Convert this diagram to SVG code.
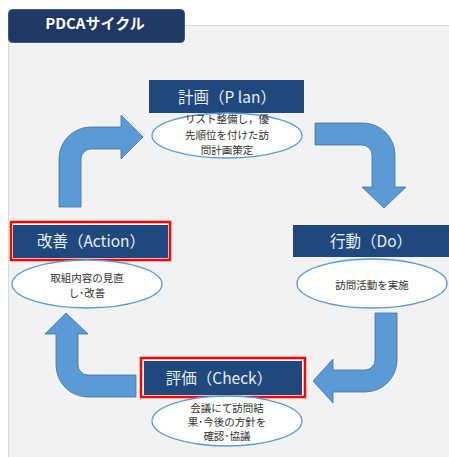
<svg xmlns="http://www.w3.org/2000/svg" width="449" height="457" viewBox="0 0 449 457">
<style>
.arrow{fill:#5B9BD5;stroke:#41719C;stroke-width:0.8}
.box{fill:#1F497D}
.hl{fill:none;stroke:#FF0000;stroke-width:2.5}
.ell{fill:#FFFFFF;stroke:#5B9BD5;stroke-width:1.3}
.bt{font-family:"Noto Sans CJK JP","Noto Sans",sans-serif;font-size:15.5px;fill:#E9EDF2;text-anchor:middle}
.et{font-family:"Noto Sans CJK JP","Noto Sans",sans-serif;font-size:10.5px;fill:#333333;text-anchor:middle}
</style>
<rect x="0" y="0" width="449" height="457" fill="#FFFFFF"/>
<rect x="8.5" y="25.5" width="445" height="440" fill="#F2F2F2" stroke="#D9D9D9" stroke-width="1"/>
<g id="title">
<rect x="8.5" y="9.5" width="176" height="33" rx="4" fill="#1F3864" stroke="#3A5A8C" stroke-width="1"/>
<text x="95" y="28.5" font-family="'Noto Sans CJK JP','Noto Sans',sans-serif" font-size="15" font-weight="bold" fill="#FFFFFF" text-anchor="middle">PDCAサイクル</text>
</g>
<g id="connectors">
<path class="arrow" d="M59,207 L59,159 A32,32 0 0 1 91,127 L121,127 L121,115 L143,137 L121,159 L121,149 L91,149 A10,10 0 0 0 81,159 L81,207 Z"/>
<path class="arrow" d="M315,123 L363,123 A32,32 0 0 1 395,155 L395,187 L406,187 L384,208 L362,187 L372,187 L372,155 A10,10 0 0 0 362,145 L315,145 Z"/>
<path class="arrow" d="M375,313 L397,313 L397,360 A32,32 0 0 1 365,392 L333,392 L333,403 L313,381 L333,359 L333,370 L365,370 A10,10 0 0 0 375,360 Z"/>
<path class="arrow" d="M136,375 L88,375 A10,10 0 0 1 78,365 L78,334 L88,334 L66,313 L45,334 L56,334 L56,365 A32,32 0 0 0 88,397 L136,397 Z"/>
</g>
<g id="plan">
<rect class="box" x="149" y="80" width="155" height="33"/>
<text class="bt" x="227" y="102.5">計画（P lan）</text>
</g>
<g id="plan-note">
<ellipse class="ell" cx="227" cy="135.5" rx="75" ry="22.5"/>
<text class="et" x="227" y="123">リスト整備し，優</text>
<text class="et" x="227" y="139">先順位を付けた訪</text>
<text class="et" x="227" y="154">問計画策定</text>
</g>
<g id="do">
<rect class="box" x="293" y="225" width="156" height="32"/>
<text class="bt" x="371" y="247">行動（Do）</text>
</g>
<g id="do-note">
<ellipse class="ell" cx="372" cy="283.5" rx="75" ry="24.5"/>
<text class="et" x="372" y="289">訪問活動を実施</text>
</g>
<g id="action">
<rect class="box" x="13" y="225" width="155" height="33"/>
<rect class="hl" x="11" y="222" width="159" height="38"/>
<text class="bt" x="91" y="247">改善（Action）</text>
</g>
<g id="action-note">
<ellipse class="ell" cx="87" cy="284" rx="75" ry="24"/>
<text class="et" x="87" y="282">取組内容の見直</text>
<text class="et" x="87" y="296.5">し･改善</text>
</g>
<g id="check">
<rect class="box" x="144" y="361" width="158" height="34"/>
<rect class="hl" x="141" y="358" width="164" height="39"/>
<text class="bt" x="219" y="383.5">評価（Check）</text>
</g>
<g id="check-note">
<ellipse class="ell" cx="227" cy="421" rx="75" ry="25"/>
<text class="et" x="227" y="412">会議にて訪問結</text>
<text class="et" x="227" y="426">果･今後の方針を</text>
<text class="et" x="227" y="440">確認･協議</text>
</g>
</svg>
